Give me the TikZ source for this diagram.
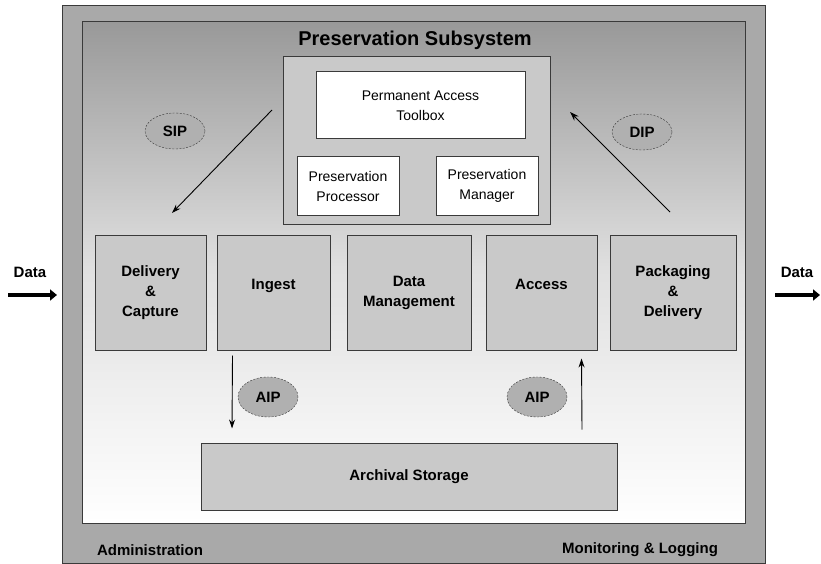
\documentclass[tikz,border=0pt]{standalone}
\usepackage{fontspec}
\setmainfont{Liberation Sans}
\usetikzlibrary{positioning,arrows.meta,calc,shapes.geometric}
\definecolor{framegray}{HTML}{A9A9A9}
\definecolor{boxgray}{HTML}{C9C9C9}
\definecolor{ovalgray}{HTML}{B0B0B0}
\definecolor{linegray}{HTML}{3A3A3A}

\begin{document}
\begin{tikzpicture}[
x=1pt,y=-1pt,
module/.style={
  draw=linegray,
  line width=1pt,
  fill=boxgray,
  align=center,
  font=\bfseries\fontsize{15}{20}\selectfont,
  inner sep=2pt
  },
tool/.style={
  draw=linegray,
  line width=1pt,
  fill=white,
  align=center,
  font=\fontsize{14}{20}\selectfont,
  inner sep=1pt
  },
pkg/.style={
  ellipse,
  draw=linegray,
  dash pattern=on 2pt off 1.5pt,
  fill=ovalgray,
  minimum width=60pt,
  minimum height=36pt,
  inner sep=0pt,
  font=\bfseries\fontsize{15}{18}\selectfont
  },
flow/.style={-{Stealth[length=9pt,width=6pt]}, line width=0.9pt},
bigflow/.style={-{Triangle[length=7pt,width=11pt]}, line width=4.5pt},
>=latex
]
\useasboundingbox (0,0) rectangle (821,564);

% frames
\fill[framegray, draw=linegray, line width=1pt] (62,6) rectangle (765,563);
\shade[top color=black!40, bottom color=white, middle color=black!12]
  (82,22) rectangle (745,523);
\draw[linegray, line width=1pt] (82,22) rectangle (745,523);
\node[font=\bfseries\fontsize{20}{24}\selectfont] (title) at (415,40) {Preservation Subsystem};

% toolbox
\node[module, minimum width=267pt, minimum height=167pt] (box) at (416.5,140.5) {};
\node[tool, minimum width=209pt, minimum height=67pt] (pat) at (420.5,105.5) {Permanent Access\\Toolbox};
\node[tool, minimum width=102pt, minimum height=58pt] (proc) at (348,186) {Preservation\\Processor};
\node[tool, minimum width=102pt, minimum height=58pt] (mgr) at (487,186) {Preservation\\Manager};

% functional modules
\node[module, minimum width=111pt, minimum height=115pt] (dc) at (150.5,292.5) {Delivery\\\&\\Capture};
\node[module, minimum width=113pt, minimum height=115pt] (ing) at (273.5,292.5) {Ingest\\[-4pt]};
\node[module, minimum width=124pt, minimum height=115pt] (dm) at (409,292.5) {Data\\Management};
\node[module, minimum width=111pt, minimum height=115pt] (acc) at (541.5,292.5) {Access\\[-4pt]};
\node[module, minimum width=126pt, minimum height=115pt] (pd) at (673,292.5) {Packaging\\\&\\Delivery};
\node[module, minimum width=416pt, minimum height=67pt] (arch) at (409,476.5) {Archival Storage};

% packages
\node[pkg] (sip) at (175,131) {SIP};
\node[pkg] (dip) at (642,132) {DIP};
\node[pkg, minimum height=40pt] (aipin) at (268,397) {AIP};
\node[pkg, minimum height=40pt] (aipout) at (537,397) {AIP};

\coordinate (sipfrom) at (272,110);
\coordinate (sipto) at (172,213);
\coordinate (dipfrom) at (670,212);
\coordinate (dipto) at (570,112);
\draw[flow] (sipfrom) -- (sipto);
\draw[flow] (dipfrom) -- (dipto);
\draw[flow] ([xshift=-41pt,yshift=-5pt]ing.south) -- ([xshift=-177pt,yshift=14pt]arch.north);
\draw[flow] ([xshift=173pt,yshift=13pt]arch.north) -- ([xshift=40pt,yshift=-8pt]acc.south);

% outside
\node[font=\bfseries\fontsize{15}{18}\selectfont] (datain) at (30,272) {Data};
\node[font=\bfseries\fontsize{15}{18}\selectfont] (dataout) at (797,272) {Data};
\coordinate (infrom) at (8,295);
\coordinate (into) at (57,295);
\coordinate (outfrom) at (775,295);
\coordinate (outto) at (820,295);
\draw[bigflow] (infrom) -- (into);
\draw[bigflow] (outfrom) -- (outto);

\node[font=\bfseries\fontsize{15}{18}\selectfont] (admin) at (150,550) {Administration};
\node[font=\bfseries\fontsize{15}{18}\selectfont] (monitor) at (640,550) {Monitoring \& Logging};
\end{tikzpicture}
\end{document}
